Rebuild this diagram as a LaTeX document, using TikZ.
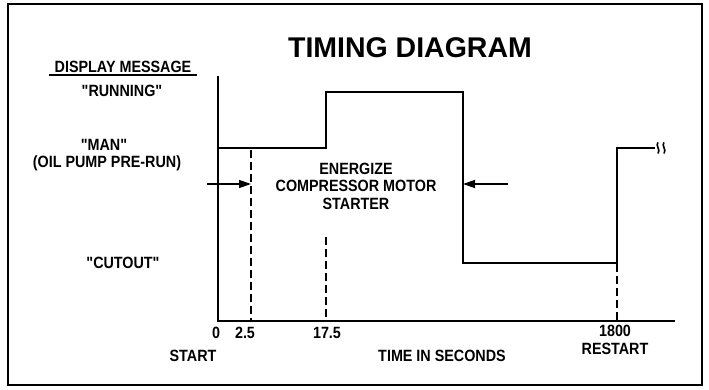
\documentclass[tikz,border=0pt]{standalone}
\usepackage{fontspec}
\setmainfont{Liberation Sans}
\newfontfamily\lblfont{Liberation Sans}[FakeStretch=0.88]
\usetikzlibrary{arrows.meta}
\newcommand{\q}{\char34\relax}
\tikzset{
  lbl/.style={font=\lblfont\bfseries\fontsize{16.3}{17.5}\selectfont, inner sep=0pt, align=center},
  wave/.style={line width=2.6pt, line join=miter},
  axis/.style={line width=1.5pt},
  dashline/.style={line width=1.5pt, dash pattern=on 8pt off 4pt},
  pointer/.style={line width=1.3pt, -{Triangle[length=12pt,width=8pt]}},
}
\begin{document}
\begin{tikzpicture}[x=1pt,y=-1pt]
\useasboundingbox (0,0) rectangle (709,390);
\draw[line width=2.8pt] (8,4) rectangle (702,385);
% title
\node[font=\bfseries\fontsize{28.5}{30}\selectfont, inner sep=0pt] (title) at (410,48) {TIMING DIAGRAM};
% left labels
\node[lbl] (dm) at (123,67) {DISPLAY MESSAGE};
\draw[line width=1.3pt] (49,75) -- (197,75);
\node[lbl] (run) at (122,91) {\q RUNNING\q};
\node[lbl] (man) at (104,145) {\q MAN\q};
\node[lbl] (oil) at (107,163) {(OIL PUMP PRE-RUN)};
\node[lbl] (cut) at (123,263) {\q CUTOUT\q};
% axes
\coordinate (o) at (218,321);
\coordinate (ytop) at (218,76);
\coordinate (xend) at (675,321);
\draw[axis] (ytop) -- (o) -- (xend);
% waveform
\coordinate (w0) at (218,148);
\coordinate (w1) at (326,148);
\coordinate (w2) at (326,92);
\coordinate (w3) at (463,92);
\coordinate (w4) at (463,263);
\coordinate (w5) at (617,263);
\coordinate (w6) at (617,148);
\coordinate (w7) at (655,148);
\draw[wave] (w0) -- (w1) -- (w2) -- (w3) -- (w4) -- (w5) -- (w6) -- (w7);
% break mark
\draw[line width=1.6pt] (658,142.5) .. controls (655,145) and (661,150) .. (658,153.5);
\draw[line width=1.6pt] (664,142.5) .. controls (661,145) and (667,150) .. (664,153.5);
% dashed markers
\coordinate (d1t) at (251,150);
\coordinate (d1b) at (251,321);
\coordinate (d2t) at (326,237);
\coordinate (d2b) at (326,321);
\coordinate (d3t) at (617,264);
\coordinate (d3b) at (617,321);
\draw[dashline] (d1t) -- (d1b);
\draw[dashline] (d2t) -- (d2b);
\draw[dashline] (d3t) -- (d3b);
% arrows
\coordinate (a1s) at (207,184);
\coordinate (a1e) at (251,184);
\coordinate (a2s) at (508,184);
\coordinate (a2e) at (463,184);
\draw[pointer] (a1s) -- (a1e);
\draw[pointer] (a2s) -- (a2e);
\node[lbl] (energize) at (356,186) {ENERGIZE\\COMPRESSOR MOTOR\\STARTER};
% tick labels
\node[lbl] (t0) at (216,333) {0};
\node[lbl] (t25) at (245,333) {2.5};
\node[lbl] (t175) at (327,333) {17.5};
\node[lbl] (t1800) at (615,340) {1800\\RESTART};
\node[lbl] (start) at (193,356) {START};
\node[lbl] (time) at (442,356) {TIME IN SECONDS};
\end{tikzpicture}
\end{document}
